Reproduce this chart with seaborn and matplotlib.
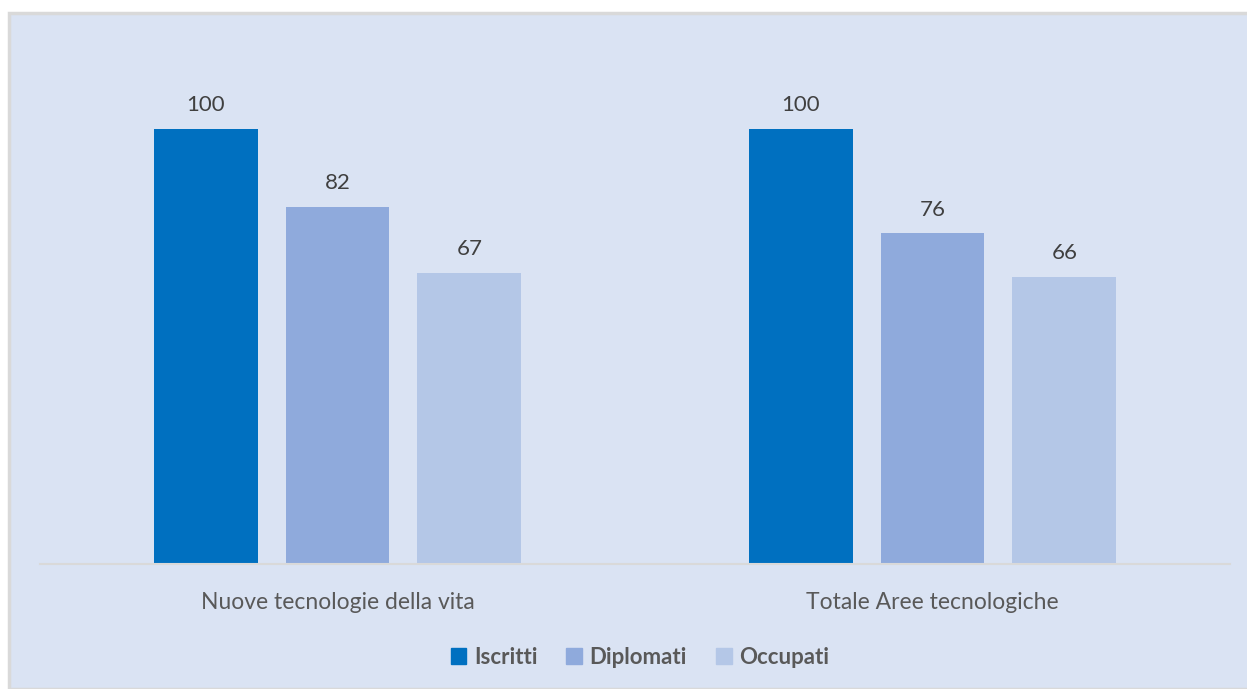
import matplotlib.pyplot as plt
import matplotlib.patches as mpatches
import seaborn as sns
import pandas as pd

categorie = ['Nuove tecnologie della vita', 'Totale Aree tecnologiche']
serie = ['Iscritti', 'Diplomati', 'Occupati']
iscritti = [100, 100]
diplomati = [82, 76]
occupati = [67, 66]
colori = ['#0070C0', '#8FAADC', '#B4C7E7']

sns.set_style('white')
plt.rcParams['font.family'] = ['Lato', 'DejaVu Sans']

# tabella lunga per seaborn
righe = []
for i, cat in enumerate(categorie):
    for nome, valori in zip(serie, [iscritti, diplomati, occupati]):
        righe.append({'Area': cat, 'Serie': nome, 'Valore': valori[i]})
df = pd.DataFrame(righe)

fig = plt.figure(figsize=(12.47, 6.89), dpi=100)
fig.patch.set_facecolor('white')

# pannello azzurro con bordo grigio
W, H = 1247, 689
pannello = mpatches.Rectangle((9 / W, 0), 1, (H - 13) / H, transform=fig.transFigure,
                              facecolor='#DAE3F3', edgecolor='#D9D9D9', linewidth=2.5, zorder=-5)
fig.patches.append(pannello)

ax = fig.add_axes([40 / W, 125 / H, 1190 / W, 522 / H])
ax.set_facecolor('none')

sns.barplot(data=df, x='Area', y='Valore', hue='Serie', order=categorie, hue_order=serie,
            palette=colori, width=0.665, gap=0.212, saturation=1, linewidth=0,
            ax=ax, legend=False)

for cont in ax.containers:
    ax.bar_label(cont, labels=[f'{int(v)}' for v in cont.datavalues], padding=10,
                 fontsize=16, color='#404040')

ax.set_xlim(-0.5, 1.5)
ax.set_ylim(0, 120)
ax.set_yticks([])
ax.set_xlabel('')
ax.set_ylabel('')
for s in ['top', 'right', 'left']:
    ax.spines[s].set_visible(False)
ax.spines['bottom'].set_color('#D9D9D9')
ax.spines['bottom'].set_linewidth(1.5)
ax.tick_params(axis='x', length=0, pad=20, labelsize=16.5, labelcolor='#595959')

maniglie = [mpatches.Patch(color=c, label=s) for c, s in zip(colori, serie)]
leg = fig.legend(handles=maniglie, loc='center', bbox_to_anchor=(640 / W, 1 - 657 / H),
                 ncol=3, frameon=False, handlelength=0.7, handleheight=0.7,
                 handletextpad=0.35, columnspacing=1.3,
                 prop={'family': ['Lato', 'DejaVu Sans'], 'weight': 'bold', 'size': 16})
for t in leg.get_texts():
    t.set_color('#595959')

fig.savefig('out.png', dpi=100)
